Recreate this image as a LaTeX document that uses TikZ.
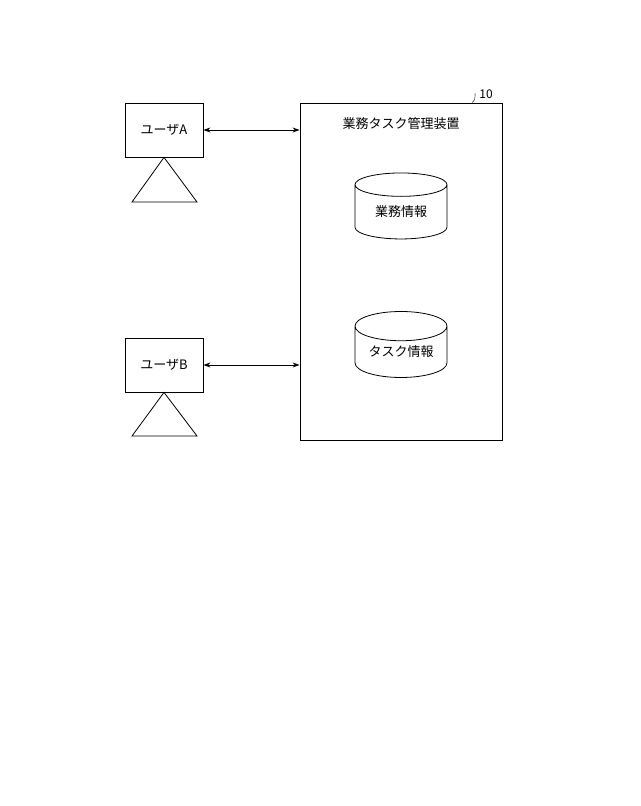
\documentclass[tikz,border=0pt]{standalone}
\usepackage{fontspec}
\setmainfont{Noto Sans CJK JP}
\usetikzlibrary{shapes.geometric,arrows.meta}
\begin{document}
\begin{tikzpicture}[x=1pt,y=-1pt,
    userbox/.style={draw,thick,minimum width=78pt,minimum height=54pt,inner sep=0pt,font=\fontsize{13}{15}\selectfont},
    dbase/.style={draw,thick,cylinder,shape border rotate=90,aspect=0.45,minimum width=92pt,minimum height=66pt,inner sep=0pt,font=\fontsize{13}{15}\selectfont},
    link/.style={thick,{Stealth[length=7pt,width=5pt]}-{Stealth[length=7pt,width=5pt]}}]
\useasboundingbox (0,0) rectangle (640,806);
% device
\node[draw,thick,minimum width=202pt,minimum height=337pt,inner sep=0pt] (dev) at (401,271.5) {};
\node[font=\fontsize{13}{15}\selectfont] (title) at (401,124) {業務タスク管理装置};
\node[font=\fontsize{12}{14}\selectfont] (num) at (486,94) {10};
\draw (num.west) .. controls (473,92) and (478,98) .. (dev.north east -| 472,103);
\node[dbase] (work) at (401,212) {業務情報};
\node[dbase] (task) at (401,352) {タスク情報};
% users
\node[userbox] (ua) at (164,130) {ユーザA};
\draw[thick] (ua.south) -- (197,202) -- (132,202) -- cycle;
\node[userbox] (ub) at (164,365) {ユーザB};
\draw[thick] (ub.south) -- (197,436) -- (132,436) -- cycle;
\draw[link] (ua.east) -- (ua.east -| dev.west);
\draw[link] (ub.east) -- (ub.east -| dev.west);
\end{tikzpicture}
\end{document}
